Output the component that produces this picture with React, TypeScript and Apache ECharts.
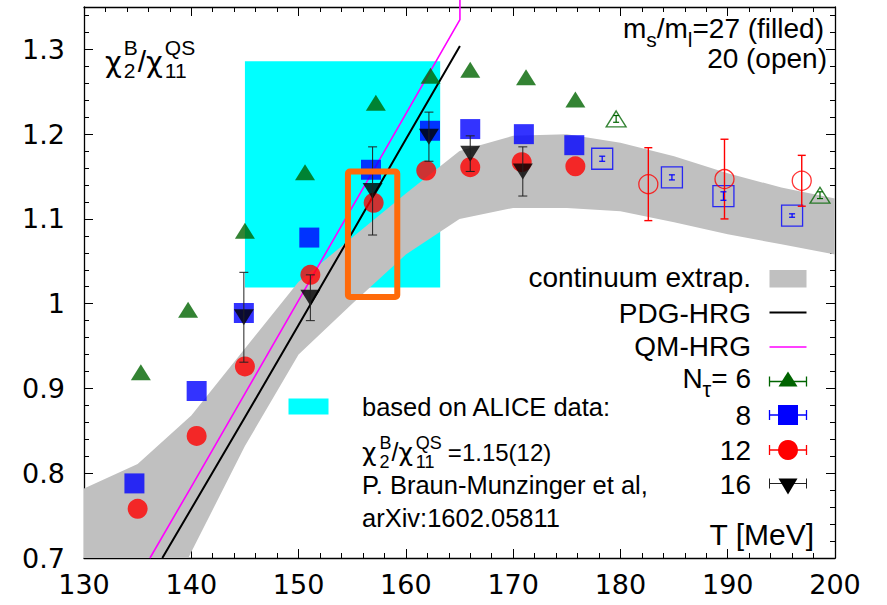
import { useEffect, useRef } from 'react';
import * as echarts from 'echarts';

const FONT = '"Liberation Sans", Arial, Helvetica, sans-serif';
const TICKFONT = '"DejaVu Sans", "Liberation Sans", sans-serif';
const GREEK = '"DejaVu Sans", "Liberation Sans", sans-serif';

// ---- lattice data: N_tau = 6 (green triangles) ----
const tempsNt6 = [135.3, 139.7, 145.0, 150.6, 157.2, 162.3, 166.0, 171.2, 175.8];
const valsNt6 = [0.919, 0.993, 1.086, 1.155, 1.237, 1.269, 1.276, 1.267, 1.241];
const tempsNt6Open = [179.6, 198.6];
const valsNt6Open = [1.218, 1.128];
const errsNt6Open = [0.004, 0.004];

// ---- N_tau = 8 (blue squares) ----
const tempsNt8 = [134.7, 140.5, 144.9, 151.0, 156.75, 162.25, 166.0, 171.0, 175.7];
const valsNt8 = [0.788, 0.897, 0.989, 1.078, 1.158, 1.204, 1.206, 1.2, 1.187];
const tempsNt8Open = [178.3, 184.8, 189.6, 196.0];
const valsNt8Open = [1.171, 1.149, 1.127, 1.104];
const errsNt8Open = [0.003, 0.003, 0.005, 0.002];

// ---- N_tau = 12 (red circles) ----
const tempsNt12 = [135.0, 140.5, 145.0, 151.1, 157.0, 161.9, 166.0, 170.8, 175.8];
const valsNt12 = [0.758, 0.844, 0.926, 1.034, 1.119, 1.157, 1.161, 1.167, 1.162];
const tempsNt12Open = [182.6, 189.7, 196.9];
const valsNt12Open = [1.141, 1.147, 1.145];
const errsNt12Open = [0.043, 0.047, 0.03];

// ---- N_tau = 16 (black down triangles) ----
const tempsNt16 = [144.9, 151.1, 156.9, 162.15, 166.0, 170.9];
const valsNt16 = [0.984, 1.007, 1.133, 1.197, 1.177, 1.156];
const errsNt16 = [0.053, 0.027, 0.052, 0.029, 0.021, 0.029];

// ---- continuum extrapolation band ----
const bandT = [130, 135, 140, 145, 150, 155, 160, 165, 170, 175, 180, 185, 190, 195, 200];
const bandLow = [0.5, 0.58, 0.707, 0.832, 0.94, 1.0, 1.058, 1.1, 1.113, 1.113, 1.109, 1.096, 1.082, 1.07, 1.058];
const bandHigh = [0.782, 0.811, 0.868, 0.947, 1.026, 1.078, 1.13, 1.18, 1.198, 1.2, 1.19, 1.174, 1.154, 1.137, 1.124];

// ---- HRG curves ----
const pdgT = [137.3, 140, 145, 150, 155, 160, 165.04];
const pdgV = [0.7, 0.758, 0.866, 0.975, 1.084, 1.194, 1.304];
const qmT = [136.15, 140, 145, 150, 155, 160, 165.04, 165.04];
const qmV = [0.7, 0.784, 0.894, 1.004, 1.114, 1.224, 1.335, 1.4];

// ---- ALICE box and highlighted window ----
const aliceT = [145.0, 163.2];
const aliceV = [1.019, 1.286];
const highlightT = [154.6, 159.2];
const highlightV = [1.008, 1.156];

const yTickFormatter = (v: number) => {
  const r = Math.round(v * 10) / 10;
  return Math.abs(r - v) < 1e-6 ? String(r) : '';
};

function pts(t: number[], v: number[]) {
  return t.map((x, i) => [x, v[i]]);
}

function errorBars(temps: number[], vals: number[], errs: number[], color: string, width: number, cap: number, z: number) {
  return {
    type: 'custom',
    z,
    silent: true,
    data: temps.map((t, i) => [t, vals[i] - errs[i], vals[i] + errs[i]]),
    encode: { x: 0, y: [1, 2] },
    renderItem: (_p: any, api: any) => {
      const lo = api.coord([api.value(0), api.value(1)]);
      const hi = api.coord([api.value(0), api.value(2)]);
      const st = { stroke: color, lineWidth: width };
      return {
        type: 'group',
        children: [
          { type: 'line', shape: { x1: lo[0], y1: lo[1], x2: hi[0], y2: hi[1] }, style: st },
          { type: 'line', shape: { x1: lo[0] - cap, y1: lo[1], x2: lo[0] + cap, y2: lo[1] }, style: st },
          { type: 'line', shape: { x1: hi[0] - cap, y1: hi[1], x2: hi[0] + cap, y2: hi[1] }, style: st },
        ],
      };
    },
  };
}

function txt(text: string, x: number, y: number, size: number, align = 'left', family = FONT) {
  return {
    type: 'text',
    x,
    y,
    z: 50,
    silent: true,
    style: {
      text,
      fill: '#000',
      fontSize: size,
      fontFamily: family,
      align,
      textAlign: align,
      verticalAlign: 'middle',
      textVerticalAlign: 'middle',
    },
  };
}

function rich(text: string, x: number, y: number, richStyles: any, align = 'left') {
  return {
    type: 'text',
    x,
    y,
    z: 50,
    silent: true,
    style: {
      text,
      fill: '#000',
      fontSize: 28,
      fontFamily: FONT,
      align,
      textAlign: align,
      verticalAlign: 'middle',
      textVerticalAlign: 'middle',
      rich: richStyles,
    },
  };
}

function hbar(x1: number, x2: number, y: number, color: string, w: number) {
  const st = { stroke: color, lineWidth: w };
  return [
    { type: 'line', z: 50, shape: { x1, y1: y, x2, y2: y }, style: st },
    { type: 'line', z: 50, shape: { x1, y1: y - 5, x2: x1, y2: y + 5 }, style: st },
    { type: 'line', z: 50, shape: { x1: x2, y1: y - 5, x2, y2: y + 5 }, style: st },
  ];
}

export default function App() {
  const ref = useRef<HTMLDivElement>(null);
  useEffect(() => {
    if (!ref.current) return;
    const chart = echarts.init(ref.current, null, { renderer: 'svg' });

    const xBase = {
      type: 'value',
      min: 130,
      max: 200,
      interval: 10,
      splitLine: { show: false },
      axisLine: { show: true, onZero: false, lineStyle: { color: '#000', width: 1.3 } },
      axisTick: { show: true, inside: true, length: 9, lineStyle: { color: '#000', width: 1 } },
      minorTick: { show: true, splitNumber: 5, length: 5, lineStyle: { color: '#000', width: 1 } },
    };
    const yBase = {
      type: 'value',
      min: 0.7,
      max: 1.35,
      splitLine: { show: false },
    };
    const majorY = {
      ...yBase,
      interval: 0.1,
      axisLine: { show: true, onZero: false, lineStyle: { color: '#000', width: 1.3 } },
      axisTick: { show: true, inside: true, length: 9, lineStyle: { color: '#000', width: 1 } },
    };
    const minorY = {
      ...yBase,
      interval: 0.02,
      axisLine: { show: false },
      axisLabel: { show: false },
      axisTick: { show: true, inside: true, length: 5, lineStyle: { color: '#000', width: 1 } },
    };

    const lx1 = 769.5;
    const lx2 = 806.5;
    const lcx = 788;

    const option: any = {
      animation: false,
      backgroundColor: '#fff',
      grid: { left: 84, right: 52, top: 7, bottom: 47, containLabel: false },
      xAxis: [
        {
          ...xBase,
          position: 'bottom',
          axisLabel: { show: true, fontSize: 27, color: '#000', fontFamily: TICKFONT, margin: 13 },
        },
        { ...xBase, position: 'top', axisLabel: { show: false } },
      ],
      yAxis: [
        {
          ...majorY,
          position: 'left',
          axisLabel: { show: true, fontSize: 27, color: '#000', fontFamily: TICKFONT, margin: 19, showMaxLabel: false, formatter: yTickFormatter },
        },
        { ...minorY, position: 'left' },
        { ...majorY, position: 'right', axisLabel: { show: false } },
        { ...minorY, position: 'right' },
      ],
      series: [
        {
          type: 'custom',
          z: 1,
          silent: true,
          data: [[aliceT[0], aliceV[0], aliceT[1], aliceV[1]]],
          encode: { x: [0, 2], y: [1, 3] },
          renderItem: (_p: any, api: any) => {
            const a = api.coord([api.value(0), api.value(1)]);
            const b = api.coord([api.value(2), api.value(3)]);
            return { type: 'rect', shape: { x: a[0], y: b[1], width: b[0] - a[0], height: a[1] - b[1] }, style: { fill: '#00ffff' } };
          },
        },
        {
          type: 'custom',
          z: 2,
          silent: true,
          clip: true,
          data: bandT.map((t, i) => [t, bandLow[i], bandHigh[i]]),
          encode: { x: 0, y: [1, 2] },
          renderItem: (p: any, api: any) => {
            if (p.dataIndex !== 0) return null;
            const n = bandT.length;
            const upper: number[][] = [];
            const lower: number[][] = [];
            for (let i = 0; i < n; i++) {
              upper.push(api.coord([api.value(0, i), api.value(2, i)]));
              lower.push(api.coord([api.value(0, i), api.value(1, i)]));
            }
            return { type: 'polygon', shape: { points: upper.concat(lower.reverse()) }, style: { fill: '#c0c0c0' } };
          },
        },
        {
          type: 'line',
          z: 3,
          data: pts(pdgT, pdgV),
          showSymbol: false,
          lineStyle: { color: '#000', width: 2 },
          silent: true,
        },
        {
          type: 'line',
          z: 3,
          clip: false,
          data: pts(qmT, qmV),
          showSymbol: false,
          lineStyle: { color: '#ff00ff', width: 1.6 },
          silent: true,
        },
        { type: 'scatter', z: 4, data: pts(tempsNt6, valsNt6), symbol: 'triangle', symbolSize: [20, 16], itemStyle: { color: '#006400' } },
        { type: 'scatter', z: 4, data: pts(tempsNt6Open, valsNt6Open), symbol: 'triangle', symbolSize: [20, 16], itemStyle: { color: 'rgba(0,0,0,0)', borderColor: '#006400', borderWidth: 1.3 } },
        { type: 'scatter', z: 4, data: pts(tempsNt8, valsNt8), symbol: 'rect', symbolSize: 20, itemStyle: { color: '#0000ff' } },
        { type: 'scatter', z: 4, data: pts(tempsNt8Open, valsNt8Open), symbol: 'rect', symbolSize: 21, itemStyle: { color: 'rgba(0,0,0,0)', borderColor: '#0000ff', borderWidth: 1.3 } },
        { type: 'scatter', z: 4, data: pts(tempsNt12, valsNt12), symbol: 'circle', symbolSize: 20, itemStyle: { color: '#ff0000' } },
        { type: 'scatter', z: 4, data: pts(tempsNt12Open, valsNt12Open), symbol: 'circle', symbolSize: 19, itemStyle: { color: 'rgba(0,0,0,0)', borderColor: '#ff0000', borderWidth: 1.3 } },
        { type: 'scatter', z: 4, data: pts(tempsNt16, valsNt16), symbol: 'triangle', symbolRotate: 180, symbolSize: [20, 16], itemStyle: { color: '#000' } },
        errorBars(tempsNt16, valsNt16, errsNt16, '#222', 1, 4.5, 5),
        errorBars(tempsNt12Open, valsNt12Open, errsNt12Open, '#ff0000', 1.4, 4, 5),
        errorBars(tempsNt8Open, valsNt8Open, errsNt8Open, '#0000ff', 1.2, 3, 5),
        errorBars(tempsNt6Open, valsNt6Open, errsNt6Open, '#006400', 1.2, 3, 5),
        {
          type: 'custom',
          z: 6,
          silent: true,
          data: [[highlightT[0], highlightV[0], highlightT[1], highlightV[1]]],
          encode: { x: [0, 2], y: [1, 3] },
          renderItem: (_p: any, api: any) => {
            const a = api.coord([api.value(0), api.value(1)]);
            const b = api.coord([api.value(2), api.value(3)]);
            return {
              type: 'rect',
              shape: { x: a[0], y: b[1], width: b[0] - a[0], height: a[1] - b[1], r: 2 },
              style: { fill: 'none', stroke: '#ff6a0a', lineWidth: 6 },
            };
          },
        },
      ],
      graphic: [
        // top-left label chi2^B / chi11^QS (sub and sup stacked)
        rich('{c|χ}{sb|2}{sp|B}{m|/}{c|χ}{sb|11}{sp|QS}', 105, 61.5, {
          c: { fontFamily: GREEK, fontSize: 29, lineHeight: 40, padding: [0, 2, 0, 0] },
          m: { fontFamily: FONT, fontSize: 30, lineHeight: 40 },
          sb: { fontFamily: FONT, fontSize: 21, width: 0.01, height: 22.2, verticalAlign: 'bottom' },
          sp: { fontFamily: FONT, fontSize: 21, height: 12.4, verticalAlign: 'top' },
        }),
        // top-right label
        rich('{a|m}{b|s}{a|/m}{b|l}{a|=27 (filled)}', 824, 28.6, {
          a: { fontFamily: FONT, fontSize: 28, lineHeight: 40 },
          b: { fontFamily: FONT, fontSize: 21, height: 18.4, verticalAlign: 'bottom' },
        }, 'right'),
        txt('20 (open)', 827, 58.8, 28, 'right'),
        // key
        txt('continuum extrap.', 751, 277.5, 28, 'right'),
        txt('PDG-HRG', 751, 313, 28, 'right'),
        txt('QM-HRG', 751, 346.5, 28, 'right'),
        rich('{a|N}{b|τ}{a|= 6}', 751, 378.7, {
          a: { fontFamily: FONT, fontSize: 28, lineHeight: 40 },
          b: { fontFamily: FONT, fontSize: 22, height: 18, verticalAlign: 'bottom' },
        }, 'right'),
        txt('8', 751, 415, 28, 'right'),
        txt('12', 751, 450, 28, 'right'),
        txt('16', 751, 484.5, 28, 'right'),
        { type: 'rect', z: 50, shape: { x: lx1, y: 270, width: lx2 - lx1, height: 17.5 }, style: { fill: '#c0c0c0' } },
        { type: 'line', z: 50, shape: { x1: lx1, y1: 312.5, x2: lx2, y2: 312.5 }, style: { stroke: '#000', lineWidth: 2 } },
        { type: 'line', z: 50, shape: { x1: lx1, y1: 347, x2: lx2, y2: 347 }, style: { stroke: '#ff00ff', lineWidth: 1.6 } },
        ...hbar(lx1, lx2, 381.5, '#006400', 1.3),
        { type: 'polygon', z: 51, shape: { points: [[lcx - 9.5, 386.5], [lcx + 9.5, 386.5], [lcx, 371.5]] }, style: { fill: '#006400' } },
        ...hbar(lx1, lx2, 415, '#0000ff', 1.3),
        { type: 'rect', z: 51, shape: { x: lcx - 10, y: 405, width: 20, height: 20 }, style: { fill: '#0000ff' } },
        ...hbar(lx1, lx2, 450, '#ff0000', 1.3),
        { type: 'circle', z: 51, shape: { cx: lcx, cy: 450, r: 10 }, style: { fill: '#ff0000' } },
        ...hbar(lx1, lx2, 483.5, '#222', 1),
        { type: 'polygon', z: 51, shape: { points: [[lcx - 9.5, 478.5], [lcx + 9.5, 478.5], [lcx, 494.5]] }, style: { fill: '#000' } },
        // axis title
        txt('T [MeV]', 814, 534.5, 30, 'right'),
        // ALICE key
        { type: 'rect', z: 50, shape: { x: 288.5, y: 398.5, width: 40, height: 16 }, style: { fill: '#00ffff' } },
        txt('based on ALICE data:', 362, 406.5, 25.5),
        rich('{c|χ}{sb|2}{sp|B}{m|/}{c|χ}{sb|11}{sp|QS}{e|=1.15(12)}', 362, 452.2, {
          c: { fontFamily: GREEK, fontSize: 25, lineHeight: 40, padding: [0, 3, 0, 0] },
          m: { fontFamily: FONT, fontSize: 25, lineHeight: 40 },
          sb: { fontFamily: FONT, fontSize: 18, width: 0.01, height: 19.6, verticalAlign: 'bottom' },
          sp: { fontFamily: FONT, fontSize: 18, height: 20.8, verticalAlign: 'top' },
          e: { fontFamily: FONT, fontSize: 24, lineHeight: 40, padding: [0, 0, 0, 6] },
        }),
        txt('P. Braun-Munzinger et al,', 362, 484.5, 25.5),
        txt('arXiv:1602.05811', 362, 518, 25.5),
      ],
    };

    chart.setOption(option);
    return () => chart.dispose();
  }, []);

  return <div ref={ref} style={{ position: 'fixed', left: 0, top: 0, width: 887, height: 605, background: '#fff' }} />;
}
